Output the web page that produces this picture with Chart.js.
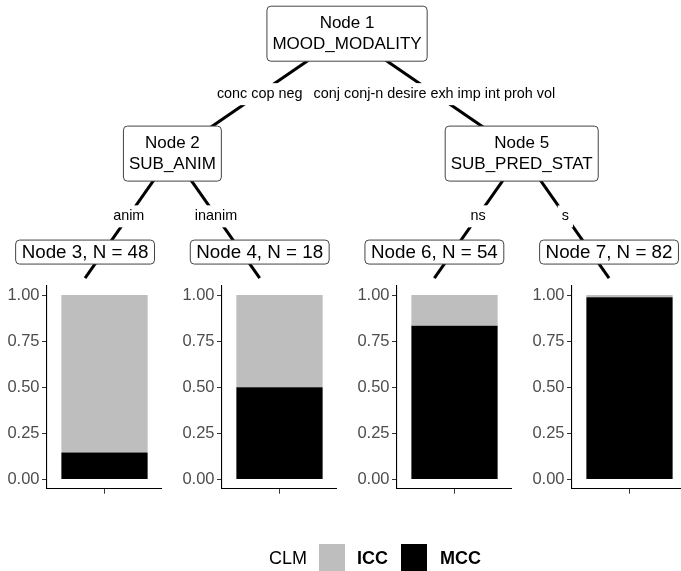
<!DOCTYPE html>
<html>
<head>
<meta charset="utf-8">
<script src="https://cdn.jsdelivr.net/npm/chart.js@4.4.0/dist/chart.umd.min.js"></script>
<style>
    body { margin: 0; background: #fff; }
    #wrap { position: relative; width: 681px; height: 571px; overflow: hidden; font-family: 'Liberation Sans', Arial, sans-serif; }
    #tree { position: absolute; left: 0; top: 0; }
    .leaf { position: absolute; top: 280px; }
    .legend-text { position: absolute; top: 547px; font-size: 18px; line-height: 22px; color: #000; }
    .key { position: absolute; top: 544px; width: 26px; height: 27px; }
</style>
</head>
<body>
<div id="wrap">
    <canvas id="tree" width="681" height="571"></canvas>
    <canvas id="leaf3" class="leaf" width="162" height="215" style="left:0px"></canvas>
    <canvas id="leaf4" class="leaf" width="162" height="215" style="left:175px"></canvas>
    <canvas id="leaf6" class="leaf" width="162" height="215" style="left:350px"></canvas>
    <canvas id="leaf7" class="leaf" width="162" height="215" style="left:525px"></canvas>

    <span class="legend-text" style="left:269px">CLM</span>
    <div class="key" style="left:319px; background:#bebebe"></div>
    <span class="legend-text" style="left:357px; font-weight:bold">ICC</span>
    <div class="key" style="left:401px; background:#000"></div>
    <span class="legend-text" style="left:440px; font-weight:bold">MCC</span>
</div>
<script>
// Tree layout (x in leaf units, y in 0..1 from bottom)
const nodeIds   = [1, 2, 3, 4, 5, 6, 7];
const nodeX     = [2.5, 1.5, 1, 2, 3.5, 3, 4];
const nodeY     = [0.941, 0.731, 0.513, 0.513, 0.731, 0.513, 0.513];
const nodeSplit = ['MOOD_MODALITY', 'SUB_ANIM', null, null, 'SUB_PRED_STAT', null, null];
const nodeN     = [null, null, 48, 18, null, 54, 82];

const edgeFrom   = [1, 1, 2, 2, 5, 5];
const edgeTo     = [2, 5, 3, 4, 6, 7];
const edgeLabels = ['conc cop neg', 'conj conj-n desire exh imp int proh vol', 'anim', 'inanim', 'ns', 's'];

// Terminal node class shares
const leafNodes = [3, 4, 6, 7];
const iccShare  = [0.854, 0.5, 0.167, 0.012];
const mccShare  = [0.146, 0.5, 0.833, 0.988];
const yTicks    = [0, 0.25, 0.5, 0.75, 1];

const FONT = '"Liberation Sans", Arial, sans-serif';
const idx = id => nodeIds.indexOf(id);

// Draw labels and node boxes on top of the edges
const treeLabels = {
    id: 'treeLabels',
    afterDatasetsDraw(chart) {
        const ctx = chart.ctx;
        const xs = chart.scales.x, ys = chart.scales.y;
        ctx.save();
        ctx.textAlign = 'center';
        ctx.textBaseline = 'middle';

        // edge labels
        ctx.font = '14.4px ' + FONT;
        edgeFrom.forEach((f, i) => {
            const a = idx(f), b = idx(edgeTo[i]);
            const px = (xs.getPixelForValue(nodeX[a]) + xs.getPixelForValue(nodeX[b])) / 2;
            const py = (ys.getPixelForValue(nodeY[a]) + ys.getPixelForValue(nodeY[b])) / 2 + 0.5;
            const w = ctx.measureText(edgeLabels[i]).width + 8;
            ctx.fillStyle = '#fff';
            ctx.fillRect(px - w / 2, py - 11, w, 22);
            ctx.fillStyle = '#000';
            ctx.fillText(edgeLabels[i], px, py);
        });

        // node boxes
        nodeIds.forEach((id, i) => {
            const px = xs.getPixelForValue(nodeX[i]);
            let py = ys.getPixelForValue(nodeY[i]);
            let lines, size, pad, h;
            if (nodeSplit[i]) {
                lines = ['Node ' + id, nodeSplit[i]];
                size = 17; pad = 5.5; h = 55;
            } else {
                lines = ['Node ' + id + ', N = ' + nodeN[i]];
                size = 18.8; pad = 6; h = 24;
                py -= 26;
            }
            ctx.font = size + 'px ' + FONT;
            const w = Math.max(...lines.map(t => ctx.measureText(t).width)) + pad * 2;
            ctx.beginPath();
            ctx.roundRect(px - w / 2, py - h / 2, w, h, 4);
            ctx.fillStyle = '#fff';
            ctx.fill();
            ctx.lineWidth = 1;
            ctx.strokeStyle = '#444';
            ctx.stroke();
            ctx.fillStyle = '#000';
            if (lines.length === 2) {
                ctx.fillText(lines[0], px, py - 10);
                ctx.fillText(lines[1], px, py + 10.5);
            } else {
                ctx.fillText(lines[0], px, py + 0.5);
            }
        });
        ctx.restore();
    }
};

// Tree edges
new Chart(document.getElementById('tree'), {
    type: 'scatter',
    data: {
        datasets: edgeFrom.map((f, i) => ({
            data: [
                { x: nodeX[idx(f)], y: nodeY[idx(f)] },
                { x: nodeX[idx(edgeTo[i])], y: nodeY[idx(edgeTo[i])] }
            ],
            showLine: true,
            borderColor: '#000',
            borderWidth: 3,
            pointRadius: 0
        }))
    },
    options: {
        responsive: false,
        animation: false,
        layout: { padding: 0 },
        plugins: { legend: { display: false }, tooltip: { enabled: false } },
        scales: {
            x: { type: 'linear', min: 0.513, max: 4.412, display: false },
            y: { type: 'linear', min: 0, max: 1, display: false }
        }
    },
    plugins: [treeLabels]
});

// Terminal node bar charts
leafNodes.forEach((id, i) => {
    new Chart(document.getElementById('leaf' + id), {
        type: 'bar',
        data: {
            labels: [''],
            datasets: [
                { label: 'MCC', data: [mccShare[i]], backgroundColor: '#000000', barPercentage: 0.75, categoryPercentage: 1 },
                { label: 'ICC', data: [iccShare[i]], backgroundColor: '#bebebe', barPercentage: 0.75, categoryPercentage: 1 }
            ]
        },
        options: {
            responsive: false,
            animation: false,
            layout: { padding: { top: 5.8, left: 0, right: 0, bottom: 0 } },
            plugins: { legend: { display: false }, tooltip: { enabled: false } },
            scales: {
                x: {
                    stacked: true,
                    offset: true,
                    grid: { offset: false, drawOnChartArea: false, drawTicks: true, tickLength: 5, color: '#333' },
                    border: { display: true, color: '#000', width: 1.1 },
                    ticks: { display: false },
                    afterFit(s) { s.height = 6.3; s.paddingLeft = 0; s.paddingRight = 0; }
                },
                y: {
                    stacked: true,
                    min: -0.05,
                    max: 1.05,
                    afterBuildTicks(s) { s.ticks = yTicks.map(v => ({ value: v })); },
                    grid: { drawOnChartArea: false, drawTicks: true, tickLength: 5, color: '#333' },
                    border: { display: true, color: '#000', width: 1.1 },
                    ticks: {
                        color: '#4d4d4d',
                        padding: 2.5,
                        font: { size: 16.5, family: FONT },
                        callback: v => v.toFixed(2)
                    },
                    afterFit(s) { s.width = 47; s.paddingTop = 0; s.paddingBottom = 0; }
                }
            }
        }
    });
});
</script>
</body>
</html>
